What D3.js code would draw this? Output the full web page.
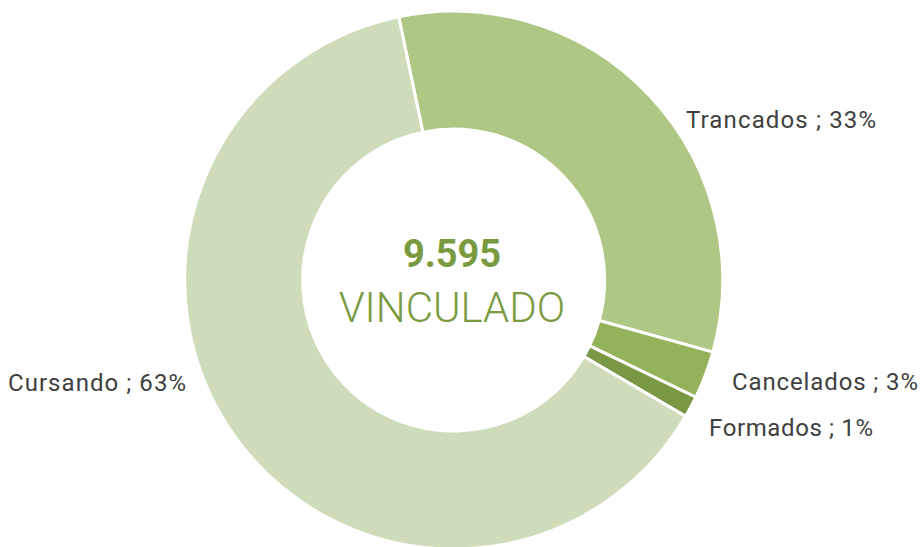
<!DOCTYPE html>
<html><head><meta charset="utf-8">
<script src="https://cdn.jsdelivr.net/npm/d3@7"></script>
<style>body{margin:0;background:#fff;} svg{display:block;}</style>
</head><body>
<svg id="c" width="921" height="547"></svg>
<script>
const categories = ["Trancados", "Cancelados", "Formados", "Cursando"];
const values = [3128, 274, 123, 6070];
const percentLabels = ["33%", "3%", "1%", "63%"];
const colors = ["#aec785", "#93b25a", "#7a9744", "#cfdcba"];
const totalLabel = "9.595";
const centerLabel = "VINCULADO";

const svg = d3.select("#c");
const cx = 453.7, cy = 280, rOuter = 269, rInner = 151;
const startDeg = -11.8;
const pie = d3.pie().sort(null).value(d => d)
  .startAngle(startDeg * Math.PI / 180)
  .endAngle((startDeg + 360) * Math.PI / 180);
const arc = d3.arc().innerRadius(rInner).outerRadius(rOuter);
const g = svg.append("g").attr("transform", `translate(${cx},${cy})`);
const arcs = pie(values);
g.selectAll("path").data(arcs).enter().append("path")
  .attr("d", arc)
  .attr("fill", (d, i) => colors[i])
  .attr("stroke", "#fff").attr("stroke-width", 3).attr("stroke-linejoin", "miter");

// labels
const labelPos = [
  {x: 686, y: 128, w: 190},
  {x: 732, y: 390, w: 186},
  {x: 709, y: 436, w: 164},
  {x: 8, y: 391, w: 178}
];
svg.selectAll("text.lbl").data(categories).enter().append("text")
  .attr("class", "lbl")
  .attr("x", (d, i) => labelPos[i].x)
  .attr("y", (d, i) => labelPos[i].y)
  .attr("textLength", (d, i) => labelPos[i].w)
  .attr("lengthAdjust", "spacing")
  .attr("font-family", "Roboto, 'DejaVu Sans', sans-serif")
  .attr("font-size", 24)
  .attr("fill", "#404040")
  .text((d, i) => `${d} ; ${percentLabels[i]}`);

svg.append("text")
  .attr("x", 452).attr("y", 267)
  .attr("text-anchor", "middle")
  .attr("font-family", "Roboto, sans-serif")
  .attr("font-weight", 700)
  .attr("font-size", 38)
  .attr("fill", "#7a9a3f")
  .text(totalLabel);
svg.append("text")
  .attr("x", 452).attr("y", 322)
  .attr("text-anchor", "middle")
  .attr("font-family", "Roboto, sans-serif")
  .attr("font-weight", 300)
  .attr("font-size", 42)
  .attr("fill", "#7a9a3f")
  .text(centerLabel);
</script>
</body></html>
